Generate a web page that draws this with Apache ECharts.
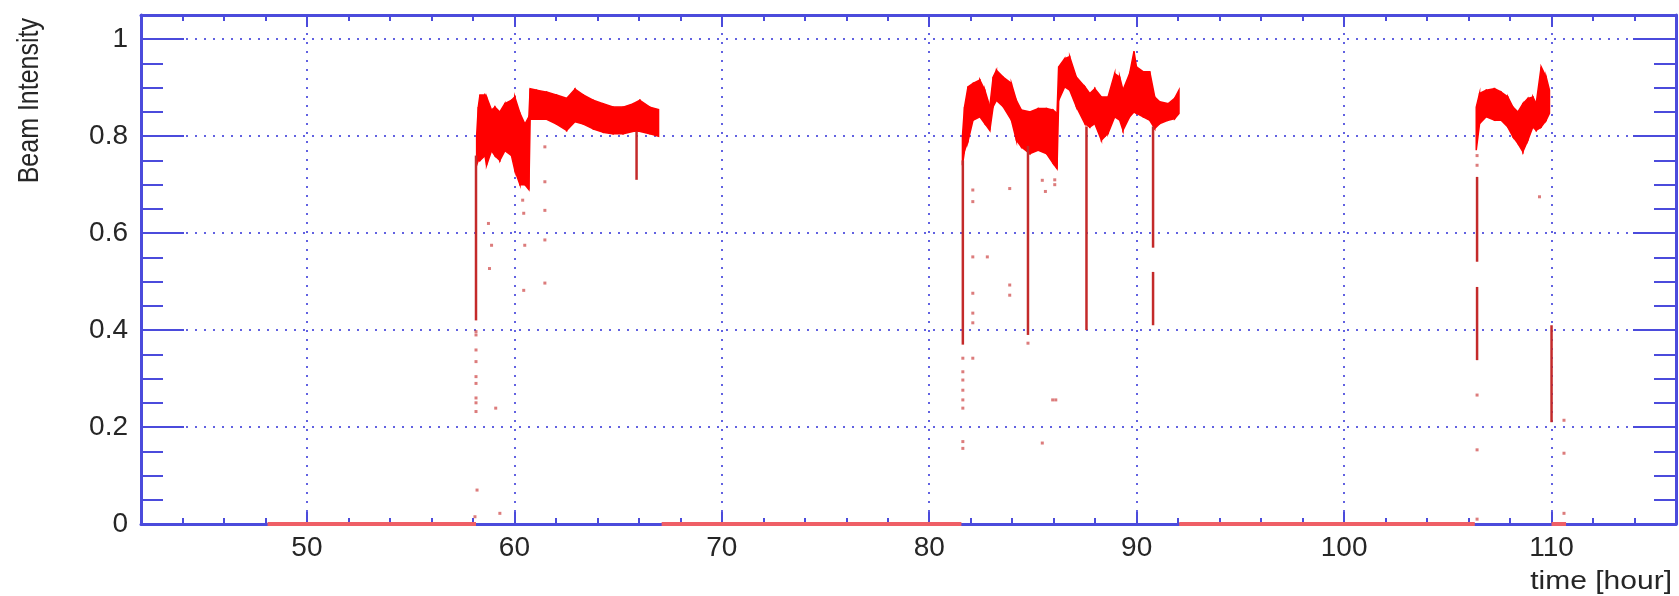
<!DOCTYPE html>
<html>
<head>
<meta charset="utf-8">
<title>Beam Intensity</title>
<script src="https://cdn.jsdelivr.net/npm/echarts@6.0.0/dist/echarts.min.js"></script>
<style>
  html, body { margin: 0; padding: 0; background: #fff; }
  #chart { width: 1679px; height: 596px; }
</style>
</head>
<body>
<div id="chart"></div>
<script>
// ticks
var xMajor = [50, 60, 70, 80, 90, 100, 110];
var yMajor = [0, 0.2, 0.4, 0.6, 0.8, 1];

// beam off periods (intensity at 0)
var offStart = [48.1, 67.1, 92.05, 110.0];
var offEnd = [58.15, 81.55, 106.3, 110.7];

// beam on: band edges, period 1
var band1T = [58.18, 58.26, 58.34, 58.58, 58.66, 58.90, 59.06, 59.30, 59.54, 59.86, 60.02, 60.27, 60.51, 60.70, 60.76, 61.07, 61.55, 62.03, 62.52, 62.92, 63.32, 63.80, 64.28, 64.76, 65.24, 65.73, 66.05, 66.53, 66.95];
var band1Hi = [0.80, 0.86, 0.885, 0.885, 0.881, 0.854, 0.860, 0.850, 0.867, 0.874, 0.881, 0.847, 0.825, 0.84, 0.898, 0.895, 0.891, 0.885, 0.878, 0.897, 0.885, 0.874, 0.867, 0.860, 0.860, 0.867, 0.874, 0.860, 0.855];
var band1Lo = [0.74, 0.75, 0.75, 0.76, 0.74, 0.77, 0.76, 0.75, 0.77, 0.76, 0.73, 0.70, 0.70, 0.69, 0.835, 0.835, 0.835, 0.825, 0.812, 0.83, 0.825, 0.815, 0.808, 0.805, 0.805, 0.81, 0.81, 0.805, 0.80];

// period 2
var band2T = [81.60, 81.70, 81.87, 82.11, 82.44, 82.68, 82.92, 83.08, 83.24, 83.56, 83.96, 84.20, 84.44, 84.85, 85.25, 85.65, 85.97, 86.16, 86.24, 86.53, 86.77, 87.09, 87.50, 87.74, 87.98, 88.30, 88.62, 88.94, 89.18, 89.34, 89.66, 89.87, 89.99, 90.31, 90.63, 90.87, 91.11, 91.51, 91.83, 92.04];
var band2Hi = [0.80, 0.86, 0.902, 0.909, 0.916, 0.895, 0.861, 0.922, 0.936, 0.922, 0.909, 0.874, 0.854, 0.850, 0.857, 0.857, 0.854, 0.847, 0.943, 0.960, 0.964, 0.922, 0.902, 0.888, 0.898, 0.881, 0.881, 0.929, 0.922, 0.895, 0.929, 0.975, 0.943, 0.933, 0.933, 0.881, 0.871, 0.867, 0.878, 0.895];
var band2Lo = [0.74, 0.77, 0.79, 0.833, 0.84, 0.826, 0.812, 0.861, 0.874, 0.861, 0.833, 0.792, 0.778, 0.764, 0.771, 0.764, 0.744, 0.733, 0.874, 0.902, 0.895, 0.861, 0.826, 0.819, 0.826, 0.792, 0.806, 0.84, 0.833, 0.812, 0.84, 0.85, 0.847, 0.84, 0.833, 0.816, 0.826, 0.833, 0.836, 0.847];

// period 3
var band3T = [106.37, 106.53, 106.85, 107.25, 107.57, 107.89, 108.14, 108.38, 108.62, 108.86, 109.10, 109.26, 109.50, 109.74, 109.90];
var band3Hi = [0.86, 0.888, 0.895, 0.898, 0.891, 0.881, 0.860, 0.850, 0.867, 0.878, 0.881, 0.867, 0.943, 0.922, 0.895];
var band3Lo = [0.771, 0.826, 0.84, 0.833, 0.833, 0.819, 0.799, 0.785, 0.768, 0.792, 0.819, 0.812, 0.819, 0.833, 0.847];

// drops (vertical runs of points)
var spikeT = [58.15, 65.89, 81.62, 84.76, 87.58, 90.79, 90.79, 106.41, 106.41, 110.0];
var spikeTop = [0.76, 0.81, 0.75, 0.78, 0.82, 0.82, 0.52, 0.716, 0.489, 0.41];
var spikeBot = [0.42, 0.71, 0.37, 0.39, 0.40, 0.57, 0.41, 0.541, 0.338, 0.21];

// single points
var ptT = [58.15, 58.15, 58.15, 58.15, 58.15, 58.15, 58.15, 58.15, 58.15, 58.2, 58.1,
  58.75, 58.9, 58.8, 59.1, 59.3,
  60.4, 60.45, 60.5, 60.45,
  61.47, 61.47, 61.47, 61.47, 61.47,
  81.62, 81.62, 81.62, 81.62, 81.62, 81.62, 81.62, 81.62,
  82.1, 82.1, 82.1, 82.8, 82.1, 82.1, 82.1, 82.1,
  83.88, 83.88, 83.88, 84.76, 85.45, 85.6, 85.45, 86.05, 86.05, 85.95, 86.1,
  106.41, 106.41, 106.41, 106.41, 106.41, 109.42, 110.6, 110.6, 110.6];
var ptV = [0.397, 0.39, 0.359, 0.335, 0.304, 0.29, 0.26, 0.25, 0.232, 0.07, 0.015,
  0.62, 0.575, 0.527, 0.239, 0.022,
  0.668, 0.641, 0.575, 0.482,
  0.778, 0.706, 0.647, 0.586, 0.497,
  0.342, 0.314, 0.297, 0.276, 0.256, 0.239, 0.17, 0.156,
  0.689, 0.665, 0.551, 0.551, 0.476, 0.435, 0.415, 0.342,
  0.692, 0.493, 0.472, 0.373, 0.709, 0.686, 0.167, 0.71, 0.70, 0.256, 0.256,
  0.76, 0.74, 0.266, 0.153, 0.01, 0.675, 0.214, 0.146, 0.022];

var BLUE = "#4b4bdc";
var RED = "#ff0000";
var DARK = "#c42a2a";
var FONT = '"Liberation Sans", Arial, Helvetica, sans-serif';
var LABEL = { color: "#262626", fontFamily: FONT, fontSize: 28 };

var myChart = echarts.init(document.getElementById("chart"));

// one x or y axis, used for the frame, major and minor ticks
function frameAxis(pos, min, max, opt) {
  var a = {
    type: "value",
    position: pos,
    min: min,
    max: max,
    axisLine: { show: false, onZero: false },
    axisTick: { show: false },
    axisLabel: { show: false },
    splitLine: { show: false }
  };
  return Object.assign(a, opt);
}

// band between lo and hi, drawn as one quad per step
function bandSeries(t, lo, hi) {
  var data = [];
  for (var i = 0; i < t.length - 1; i++) {
    data.push([t[i], lo[i], hi[i], t[i + 1], lo[i + 1], hi[i + 1]]);
  }
  return {
    type: "custom",
    data: data,
    encode: { x: [0, 3], y: [1, 2, 4, 5] },
    renderItem: function (params, api) {
      var pts = [
        api.coord([api.value(0), api.value(2)]),
        api.coord([api.value(3), api.value(5)]),
        api.coord([api.value(3), api.value(4)]),
        api.coord([api.value(0), api.value(1)])
      ];
      return {
        type: "polygon",
        shape: { points: pts },
        style: { fill: RED, stroke: RED, lineWidth: 1.5 }
      };
    },
    z: 3
  };
}

var series = [];
for (var i = 0; i < offStart.length; i++) {
  series.push({
    type: "line",
    data: [[offStart[i], 0], [offEnd[i], 0]],
    symbol: "none",
    clip: false,
    lineStyle: { color: "#ef5f66", width: 4 },
    z: 4
  });
}
series.push(bandSeries(band1T, band1Lo, band1Hi));
series.push(bandSeries(band2T, band2Lo, band2Hi));
series.push(bandSeries(band3T, band3Lo, band3Hi));

series.push({
  type: "custom",
  data: spikeT.map(function (t, i) { return [t, spikeTop[i], spikeBot[i]]; }),
  encode: { x: 0, y: [1, 2] },
  renderItem: function (params, api) {
    var a = api.coord([api.value(0), api.value(1)]);
    var b = api.coord([api.value(0), api.value(2)]);
    return {
      type: "line",
      shape: { x1: a[0], y1: a[1], x2: b[0], y2: b[1] },
      style: { stroke: DARK, lineWidth: 2.5 }
    };
  },
  z: 3
});

series.push({
  type: "scatter",
  data: ptT.map(function (t, i) { return [t, ptV[i]]; }),
  symbol: "rect",
  symbolSize: 3,
  itemStyle: { color: "rgba(200,50,50,0.8)" },
  z: 3
});

var dots = { color: "rgba(70,70,220,0.85)", width: 2, type: [2, 7] };
var line = { show: true, onZero: false, lineStyle: { color: BLUE, width: 3 } };

var option = {
  animation: false,
  backgroundColor: "#fff",
  grid: { left: 141, right: 3, top: 15, bottom: 72, outerBoundsMode: "none" },
  xAxis: [
    frameAxis("bottom", 42, 116, {
      splitNumber: 7,
      axisLine: line,
      axisTick: { show: true, inside: true, length: 12, customValues: xMajor, lineStyle: { color: BLUE, width: 2 } },
      axisLabel: Object.assign({ show: true, margin: 10, customValues: xMajor }, LABEL),
      splitLine: { show: true, lineStyle: dots }
    }),
    frameAxis("bottom", 42, 116, {
      interval: 2,
      axisTick: { show: true, inside: true, length: 6, lineStyle: { color: BLUE, width: 2 } }
    }),
    frameAxis("top", 42, 116, {
      axisLine: line,
      axisTick: { show: true, inside: true, length: 12, customValues: xMajor, lineStyle: { color: BLUE, width: 2 } }
    }),
    frameAxis("top", 42, 116, {
      interval: 2,
      axisTick: { show: true, inside: true, length: 6, lineStyle: { color: BLUE, width: 2 } }
    })
  ],
  yAxis: [
    frameAxis("left", 0, 1.05, {
      interval: 0.2,
      axisLine: line,
      axisTick: { show: true, inside: true, length: 43, customValues: yMajor, lineStyle: { color: BLUE, width: 2 } },
      axisLabel: Object.assign({ show: true, margin: 13, customValues: yMajor }, LABEL),
      splitLine: { show: true, lineStyle: dots }
    }),
    frameAxis("left", 0, 1.05, {
      interval: 0.05,
      axisTick: { show: true, inside: true, length: 22, lineStyle: { color: BLUE, width: 2 } }
    }),
    frameAxis("right", 0, 1.05, {
      interval: 0.2,
      axisLine: line,
      axisTick: { show: true, inside: true, length: 43, customValues: yMajor, lineStyle: { color: BLUE, width: 2 } }
    }),
    frameAxis("right", 0, 1.05, {
      interval: 0.05,
      axisTick: { show: true, inside: true, length: 22, lineStyle: { color: BLUE, width: 2 } }
    })
  ],
  // axis titles, a little wider than tall like the original
  graphic: [
    {
      type: "text", x: 30, y: 18, rotation: Math.PI / 2, scaleY: 1.15,
      style: {
        text: "Beam Intensity", fill: "#262626",
        font: "25px " + FONT,
        align: "right", verticalAlign: "middle"
      }
    },
    {
      type: "text", x: 1672, y: 582, scaleX: 1.2,
      style: {
        text: "time [hour]", fill: "#262626",
        font: "25px " + FONT,
        align: "right", verticalAlign: "middle"
      }
    }
  ],
  series: series
};

myChart.setOption(option);
</script>
</body>
</html>
